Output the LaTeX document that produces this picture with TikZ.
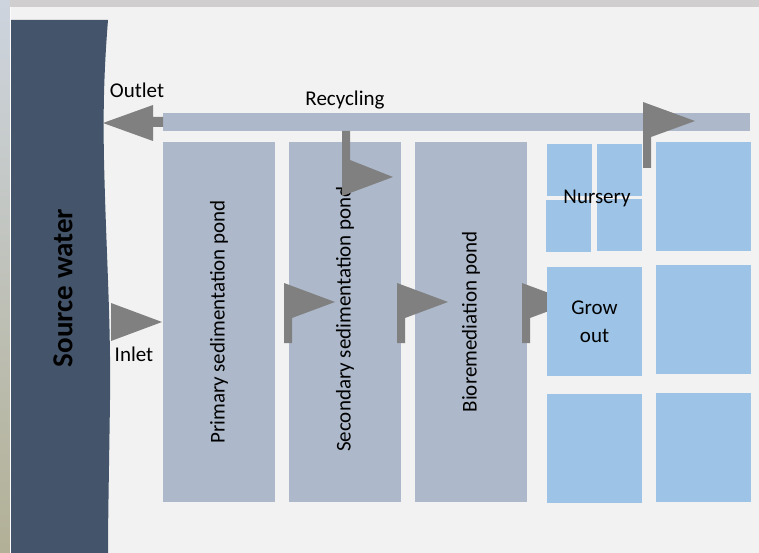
\documentclass[tikz,border=0pt]{standalone}
\usepackage{fontspec}
\setmainfont{Carlito}
\definecolor{bgc}{HTML}{F2F2F2}
\definecolor{darkw}{HTML}{44546A}
\definecolor{pondc}{HTML}{ADB9CA}
\definecolor{tilec}{HTML}{9DC3E6}
\definecolor{arrowc}{HTML}{808080}
\definecolor{stripc}{HTML}{D0CECE}
\begin{document}
\begin{tikzpicture}[x=1pt,y=-1pt,
  pond/.style={fill=pondc,inner sep=0pt,outer sep=0pt,font=\fontsize{21}{25}\selectfont},
  tile/.style={fill=tilec,inner sep=0pt,outer sep=0pt},
  lbl/.style={inner sep=0pt,font=\fontsize{21}{25}\selectfont,text=black},
  arr/.style={fill=arrowc}]
\useasboundingbox (0,0) rectangle (759,553);
\fill[bgc] (0,0) rectangle (759,553);
% left gradient strip and top strip
\shade[top color={rgb,255:red,205;green,212;blue,222}, bottom color={rgb,255:red,178;green,176;blue,150}] (0,0) rectangle (10,553);
\fill[white!70!bgc] (10,0) rectangle (11,553);
\fill[stripc] (10,0) rectangle (759,7);
% source water
\fill[darkw] (11,20) -- (108,20) .. controls (104,70) and (103,110) .. (104,160)
  .. controls (106,250) and (111,320) .. (110,400) .. controls (109,470) and (108,520) .. (108,553) -- (11,553) -- cycle;
\node[rotate=90,inner sep=0pt,font=\bfseries\fontsize{29}{32}\selectfont] (src) at (63,288) {Source water};
% recycling bar
\fill[pondc] (163,113) rectangle (750,131);
\node[lbl] (rec) at (345,100) {Recycling};
% outlet arrow
\fill[arr] (103,123) -- (153,105) -- (153,117) -- (163,117) -- (163,127) -- (153,127) -- (153,141) -- cycle;
\node[lbl] (outlet) at (137,90) {Outlet};
% ponds
\node[pond,rotate=90,minimum width=360pt,minimum height=112pt] (p1) at (219,322) {Primary sedimentation pond};
\node[pond,rotate=90,minimum width=360pt,minimum height=112pt] (p2) at (345,322) {};
\node[lbl,rotate=90] (p2t) at (345,319) {Secondary sedimentation pond};
\node[pond,rotate=90,minimum width=360pt,minimum height=112pt] (p3) at (471,322) {Bioremediation pond};
% inlet arrow
\fill[arr] (111,303) -- (162,322) -- (111,341) -- cycle;
\node[lbl] (inlet) at (134,354) {Inlet};
% flags between ponds
\foreach \xx in {284,397,522}{
  \fill[arr] (\xx,283) -- (\xx+51,302) -- (\xx+8,318) -- (\xx+8,343) -- (\xx,343) -- cycle;
}
% tiles
\node[tile,minimum width=45pt,minimum height=52pt] (n1) at (569.5,170) {};
\node[tile,minimum width=45pt,minimum height=52pt] (n2) at (619.5,170) {};
\node[tile,minimum width=45pt,minimum height=52pt] (n3) at (568.5,226) {};
\node[tile,minimum width=45pt,minimum height=52pt] (n4) at (619.5,225) {};
\node[lbl] (nursery) at (597,198) {Nursery};
\node[tile,minimum width=95pt,minimum height=109pt] (t1) at (703.5,196.5) {};
\node[tile,minimum width=95pt,minimum height=109pt,align=center,font=\fontsize{21}{28}\selectfont] (grow) at (594.5,321.5) {Grow\\out};
\node[tile,minimum width=95pt,minimum height=109pt] (t2) at (703.5,319.5) {};
\node[tile,minimum width=95pt,minimum height=109pt] (t3) at (594.5,448.5) {};
\node[tile,minimum width=95pt,minimum height=109pt] (t4) at (703.5,447.5) {};
% recycling flags
\fill[arr] (342,131) -- (350,131) -- (350,160) -- (393,177) -- (342,196) -- cycle;
\fill[arr] (643,102) -- (695,121) -- (651,137) -- (651,168) -- (643,168) -- cycle;
\end{tikzpicture}
\end{document}
